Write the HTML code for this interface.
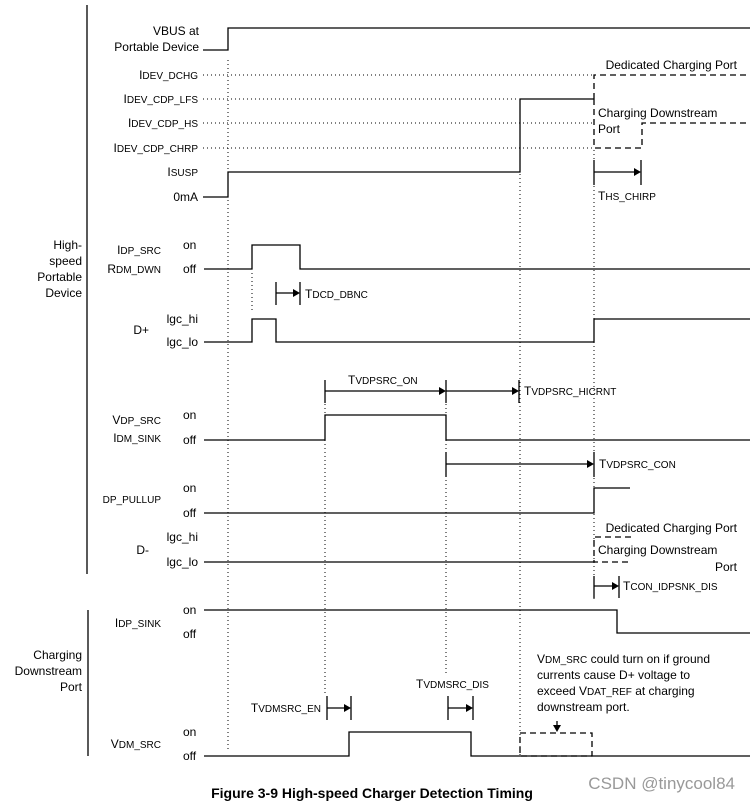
<!DOCTYPE html>
<html><head><meta charset="utf-8"><style>
html,body{margin:0;padding:0;background:#fff;}
svg{display:block;font-family:"Liberation Sans",Arial,sans-serif;}
text{font-size:12px;fill:#000;}
.s{font-size:10px;}
</style></head><body>
<svg width="750" height="805" viewBox="0 0 750 805" xmlns="http://www.w3.org/2000/svg">
<g stroke="#000" stroke-width="1.3" fill="none">
<line x1="87" y1="5" x2="87" y2="574"/>
<line x1="88" y1="610" x2="88" y2="756"/>
<polyline points="203,50 228,50 228,28 750,28"/>
<polyline points="203,197 228,197 228,172 520,172 520,99 594,99"/>
<polyline points="204,269 252,269 252,245 300,245 300,269 750,269"/>
<polyline points="204,342 252,342 252,319 276,319 276,342 594,342 594,319 750,319"/>
<polyline points="204,440 325,440 325,415 446,415 446,440 750,440"/>
<polyline points="204,513 594,513 594,488 630,488"/>
<polyline points="204,562 594,562"/>
<polyline points="204,610 617,610 617,633 750,633"/>
<polyline points="204,756 349,756 349,732 471,732 471,756 750,756"/>
<line x1="276" y1="282" x2="276" y2="305"/><line x1="300" y1="282" x2="300" y2="305"/><line x1="276" y1="293" x2="294" y2="293"/>
<line x1="325" y1="380" x2="325" y2="403"/><line x1="446" y1="380" x2="446" y2="403"/><line x1="519" y1="380" x2="519" y2="403"/>
<line x1="325" y1="391" x2="440" y2="391"/><line x1="446" y1="391" x2="513" y2="391"/>
<line x1="446" y1="452" x2="446" y2="477"/><line x1="594" y1="452" x2="594" y2="477"/><line x1="446" y1="464" x2="588" y2="464"/>
<line x1="594" y1="160" x2="594" y2="185"/><line x1="641" y1="160" x2="641" y2="185"/><line x1="594" y1="172" x2="635" y2="172"/>
<line x1="594" y1="576" x2="594" y2="598"/><line x1="619" y1="576" x2="619" y2="598"/><line x1="594" y1="586" x2="613" y2="586"/>
<line x1="327" y1="696" x2="327" y2="720"/><line x1="351" y1="696" x2="351" y2="720"/><line x1="327" y1="708" x2="345" y2="708"/>
<line x1="448" y1="696" x2="448" y2="720"/><line x1="473" y1="696" x2="473" y2="720"/><line x1="448" y1="708" x2="467" y2="708"/>
<line x1="557" y1="721" x2="557" y2="728"/>
</g>
<g fill="#000">
<polygon points="300,293 293,289 293,297"/>
<polygon points="446,391 439,387 439,395"/>
<polygon points="519,391 512,387 512,395"/>
<polygon points="594,464 587,460 587,468"/>
<polygon points="641,172 634,168 634,176"/>
<polygon points="619,586 612,582 612,590"/>
<polygon points="351,708 344,704 344,712"/>
<polygon points="473,708 466,704 466,712"/>
<polygon points="557,732 553,725 561,725"/>
</g>
<g stroke="#000" stroke-width="1.3" fill="none" stroke-dasharray="6,4">
<polyline points="594,99 594,75 750,75"/>
<polyline points="594,99 594,148 642,148 642,123 750,123"/>
<polyline points="631,537 594,537 594,562 631,562"/>
<rect x="520" y="733" width="72" height="23"/>
</g>
<g stroke="#000" stroke-width="1" fill="none" stroke-dasharray="1,3">
<line x1="228" y1="60" x2="228" y2="750"/>
<line x1="252" y1="273" x2="252" y2="312"/>
<line x1="325" y1="404" x2="325" y2="693"/>
<line x1="446" y1="404" x2="446" y2="676"/>
<line x1="520" y1="174" x2="520" y2="756"/>
<line x1="594" y1="150" x2="594" y2="600"/>
<line x1="203" y1="75" x2="592" y2="75"/>
<line x1="203" y1="99" x2="518" y2="99"/>
<line x1="203" y1="123" x2="592" y2="123"/>
<line x1="203" y1="148" x2="592" y2="148"/>
</g>
<g text-anchor="end">
<text x="199" y="35">VBUS at</text>
<text x="199" y="51">Portable Device</text>
<text x="198" y="79">I<tspan class="s">DEV_DCHG</tspan></text>
<text x="198" y="103">I<tspan class="s">DEV_CDP_LFS</tspan></text>
<text x="198" y="127">I<tspan class="s">DEV_CDP_HS</tspan></text>
<text x="198" y="152">I<tspan class="s">DEV_CDP_CHRP</tspan></text>
<text x="198" y="176">I<tspan class="s">SUSP</tspan></text>
<text x="198" y="201">0mA</text>
<text x="82" y="249">High-</text>
<text x="82" y="265">speed</text>
<text x="82" y="281">Portable</text>
<text x="82" y="297">Device</text>
<text x="82" y="659">Charging</text>
<text x="82" y="675">Downstream</text>
<text x="82" y="691">Port</text>
<text x="161" y="254">I<tspan class="s">DP_SRC</tspan></text>
<text x="161" y="273">R<tspan class="s">DM_DWN</tspan></text>
<text x="149" y="334">D+</text>
<text x="198" y="323">lgc_hi</text>
<text x="198" y="346">lgc_lo</text>
<text x="161" y="424">V<tspan class="s">DP_SRC</tspan></text>
<text x="161" y="442">I<tspan class="s">DM_SINK</tspan></text>
<text x="161" y="503" class="s">DP_PULLUP</text>
<text x="149" y="554">D-</text>
<text x="198" y="541">lgc_hi</text>
<text x="198" y="566">lgc_lo</text>
<text x="161" y="627">I<tspan class="s">DP_SINK</tspan></text>
<text x="161" y="748">V<tspan class="s">DM_SRC</tspan></text>
<text x="321" y="712">T<tspan class="s">VDMSRC_EN</tspan></text>
<text x="737" y="69">Dedicated Charging Port</text>
<text x="737" y="532">Dedicated Charging Port</text>
<text x="737" y="571">Port</text>
</g>
<g>
<text x="183" y="249">on</text><text x="183" y="273">off</text>
<text x="183" y="419">on</text><text x="183" y="444">off</text>
<text x="183" y="492">on</text><text x="183" y="517">off</text>
<text x="183" y="614">on</text><text x="183" y="638">off</text>
<text x="183" y="736">on</text><text x="183" y="760">off</text>
<text x="598" y="117">Charging Downstream</text>
<text x="598" y="133">Port</text>
<text x="598" y="200">T<tspan class="s">HS_CHIRP</tspan></text>
<text x="305" y="298">T<tspan class="s">DCD_DBNC</tspan></text>
<text x="348" y="384">T<tspan class="s">VDPSRC_ON</tspan></text>
<text x="524" y="395">T<tspan class="s">VDPSRC_HICRNT</tspan></text>
<text x="599" y="468">T<tspan class="s">VDPSRC_CON</tspan></text>
<text x="598" y="554">Charging Downstream</text>
<text x="623" y="590">T<tspan class="s">CON_IDPSNK_DIS</tspan></text>
<text x="416" y="688">T<tspan class="s">VDMSRC_DIS</tspan></text>
<text x="537" y="663">V<tspan class="s">DM_SRC</tspan> could turn on if ground</text>
<text x="537" y="679">currents cause D+ voltage to</text>
<text x="537" y="695">exceed V<tspan class="s">DAT_REF</tspan> at charging</text>
<text x="537" y="711">downstream port.</text>
<text x="372" y="798" text-anchor="middle" style="font-weight:bold;font-size:14px">Figure 3-9  High-speed Charger Detection Timing</text>
<text x="735" y="789" text-anchor="end" style="font-size:17px;fill:#999">CSDN @tinycool84</text>
</g>
</svg>
</body></html>
